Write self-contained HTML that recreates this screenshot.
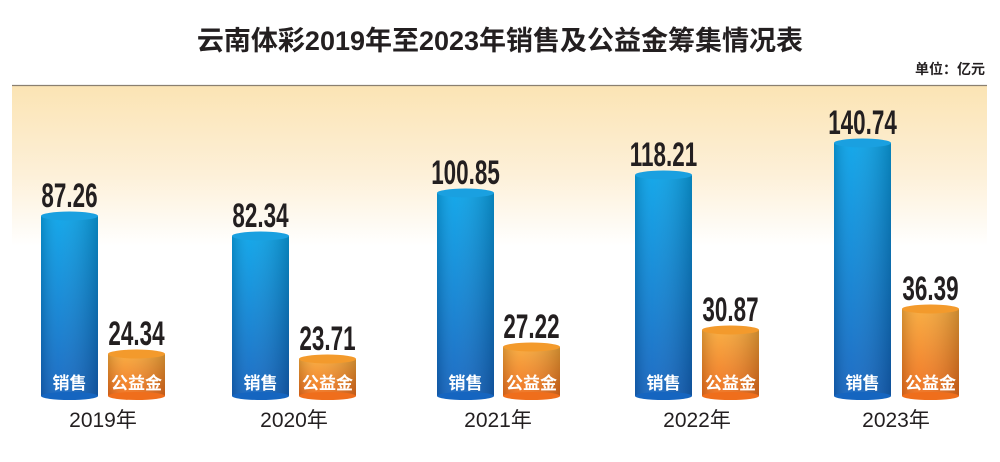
<!DOCTYPE html>
<html><head><meta charset="utf-8"><style>
body{margin:0;background:#fff}
svg{display:block}
.t{font-family:"Liberation Sans","Noto Sans CJK SC",sans-serif}
.v{font-family:"Liberation Sans",sans-serif;font-weight:bold;font-size:34px;fill:#231f20}
.lb{font-family:"Liberation Sans","Noto Sans CJK SC",sans-serif;font-weight:bold;font-size:17px;fill:#fff}
.yr{font-family:"Liberation Sans","Noto Sans CJK SC",sans-serif;font-size:21px;fill:#231f20}
</style></head><body>
<svg width="1000" height="462" viewBox="0 0 1000 462">
<defs>
<linearGradient id="bg" x1="0" y1="0" x2="0" y2="1">
<stop offset="0" stop-color="#fbe4b4"/><stop offset="0.55" stop-color="#fdf0d8"/><stop offset="1" stop-color="#ffffff"/></linearGradient>
<linearGradient id="bl" x1="0" y1="0" x2="0" y2="1">
<stop offset="0" stop-color="#0aa3e8"/><stop offset="1" stop-color="#1565c0"/></linearGradient>
<linearGradient id="bh" x1="0" y1="0" x2="1" y2="0">
<stop offset="0" stop-color="#000" stop-opacity="0.15"/><stop offset="0.3" stop-color="#fff" stop-opacity="0.05"/><stop offset="1" stop-color="#000" stop-opacity="0.2"/></linearGradient>
<linearGradient id="or" x1="0" y1="0" x2="0" y2="1">
<stop offset="0" stop-color="#f8a93a"/><stop offset="1" stop-color="#ef6e1c"/></linearGradient>
</defs>
<text class="t" x="500" y="50" text-anchor="middle" font-size="27" font-weight="bold" fill="#231f20">云南体彩2019年至2023年销售及公益金筹集情况表</text>
<text class="t" x="985" y="74" text-anchor="end" font-size="14" font-weight="bold" fill="#231f20">单位：亿元</text>
<rect x="12" y="86" width="975" height="160" fill="url(#bg)"/>
<line x1="12" y1="85.5" x2="987" y2="85.5" stroke="#8a7f70" stroke-width="1.2"/>

<rect x="41" y="216" width="57" height="180" fill="url(#bl)"/><rect x="41" y="216" width="57" height="180" fill="url(#bh)"/><ellipse cx="69.5" cy="396" rx="28.5" ry="4" fill="#1565c0"/><ellipse cx="69.5" cy="216" rx="28.5" ry="4.5" fill="#1aa0e0"/>
<rect x="108" y="354" width="57" height="42" fill="url(#or)"/><rect x="108" y="354" width="57" height="42" fill="url(#bh)"/><ellipse cx="136.5" cy="396" rx="28.5" ry="4" fill="#ef6e1c"/><ellipse cx="136.5" cy="354" rx="28.5" ry="4.5" fill="#f39a2c"/>
<text class="v" transform="translate(69.5,207) scale(0.66,1)" text-anchor="middle">87.26</text>
<text class="v" transform="translate(136.5,345) scale(0.66,1)" text-anchor="middle">24.34</text>
<text class="lb" x="69.5" y="389" text-anchor="middle">销售</text>
<text class="lb" x="136.5" y="389" text-anchor="middle">公益金</text>
<text class="yr" x="103" y="427" text-anchor="middle">2019年</text>

<rect x="232" y="236" width="57" height="160" fill="url(#bl)"/><rect x="232" y="236" width="57" height="160" fill="url(#bh)"/><ellipse cx="260.5" cy="396" rx="28.5" ry="4" fill="#1565c0"/><ellipse cx="260.5" cy="236" rx="28.5" ry="4.5" fill="#1aa0e0"/>
<rect x="299" y="359" width="57" height="37" fill="url(#or)"/><rect x="299" y="359" width="57" height="37" fill="url(#bh)"/><ellipse cx="327.5" cy="396" rx="28.5" ry="4" fill="#ef6e1c"/><ellipse cx="327.5" cy="359" rx="28.5" ry="4.5" fill="#f39a2c"/>
<text class="v" transform="translate(260.5,227) scale(0.66,1)" text-anchor="middle">82.34</text>
<text class="v" transform="translate(327.5,350) scale(0.66,1)" text-anchor="middle">23.71</text>
<text class="lb" x="260.5" y="389" text-anchor="middle">销售</text>
<text class="lb" x="327.5" y="389" text-anchor="middle">公益金</text>
<text class="yr" x="294" y="427" text-anchor="middle">2020年</text>

<rect x="437" y="193" width="57" height="203" fill="url(#bl)"/><rect x="437" y="193" width="57" height="203" fill="url(#bh)"/><ellipse cx="465.5" cy="396" rx="28.5" ry="4" fill="#1565c0"/><ellipse cx="465.5" cy="193" rx="28.5" ry="4.5" fill="#1aa0e0"/>
<rect x="503" y="347" width="57" height="49" fill="url(#or)"/><rect x="503" y="347" width="57" height="49" fill="url(#bh)"/><ellipse cx="531.5" cy="396" rx="28.5" ry="4" fill="#ef6e1c"/><ellipse cx="531.5" cy="347" rx="28.5" ry="4.5" fill="#f39a2c"/>
<text class="v" transform="translate(465.5,184) scale(0.66,1)" text-anchor="middle">100.85</text>
<text class="v" transform="translate(531.5,338) scale(0.66,1)" text-anchor="middle">27.22</text>
<text class="lb" x="465.5" y="389" text-anchor="middle">销售</text>
<text class="lb" x="531.5" y="389" text-anchor="middle">公益金</text>
<text class="yr" x="498" y="427" text-anchor="middle">2021年</text>

<rect x="635" y="175" width="57" height="221" fill="url(#bl)"/><rect x="635" y="175" width="57" height="221" fill="url(#bh)"/><ellipse cx="663.5" cy="396" rx="28.5" ry="4" fill="#1565c0"/><ellipse cx="663.5" cy="175" rx="28.5" ry="4.5" fill="#1aa0e0"/>
<rect x="702" y="330" width="57" height="66" fill="url(#or)"/><rect x="702" y="330" width="57" height="66" fill="url(#bh)"/><ellipse cx="730.5" cy="396" rx="28.5" ry="4" fill="#ef6e1c"/><ellipse cx="730.5" cy="330" rx="28.5" ry="4.5" fill="#f39a2c"/>
<text class="v" transform="translate(663.5,166) scale(0.66,1)" text-anchor="middle">118.21</text>
<text class="v" transform="translate(730.5,321) scale(0.66,1)" text-anchor="middle">30.87</text>
<text class="lb" x="663.5" y="389" text-anchor="middle">销售</text>
<text class="lb" x="730.5" y="389" text-anchor="middle">公益金</text>
<text class="yr" x="697" y="427" text-anchor="middle">2022年</text>

<rect x="834" y="143" width="57" height="253" fill="url(#bl)"/><rect x="834" y="143" width="57" height="253" fill="url(#bh)"/><ellipse cx="862.5" cy="396" rx="28.5" ry="4" fill="#1565c0"/><ellipse cx="862.5" cy="143" rx="28.5" ry="4.5" fill="#1aa0e0"/>
<rect x="902" y="309" width="57" height="87" fill="url(#or)"/><rect x="902" y="309" width="57" height="87" fill="url(#bh)"/><ellipse cx="930.5" cy="396" rx="28.5" ry="4" fill="#ef6e1c"/><ellipse cx="930.5" cy="309" rx="28.5" ry="4.5" fill="#f39a2c"/>
<text class="v" transform="translate(862.5,134) scale(0.66,1)" text-anchor="middle">140.74</text>
<text class="v" transform="translate(930.5,300) scale(0.66,1)" text-anchor="middle">36.39</text>
<text class="lb" x="862.5" y="389" text-anchor="middle">销售</text>
<text class="lb" x="930.5" y="389" text-anchor="middle">公益金</text>
<text class="yr" x="896" y="427" text-anchor="middle">2023年</text>
</svg>
</body></html>
